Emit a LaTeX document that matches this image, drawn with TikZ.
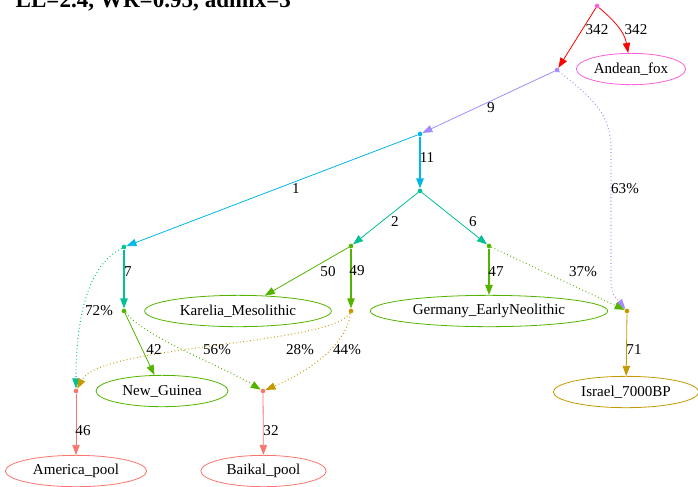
\documentclass[tikz,border=0pt]{standalone}
\usepackage{fontspec}
\setmainfont{Liberation Serif}
\usepackage{xcolor}
\usetikzlibrary{arrows.meta}
\usetikzlibrary{shapes.geometric}

\definecolor{cpink}{HTML}{FB61D7}
\definecolor{cpurple}{HTML}{A58AFF}
\definecolor{ccyan}{HTML}{00B6EB}
\definecolor{cteal}{HTML}{00C094}
\definecolor{cgreen}{HTML}{53B400}
\definecolor{cgold}{HTML}{C49A00}
\definecolor{csalmon}{HTML}{F8766D}

\tikzset{
  dot/.style={circle, fill=#1, inner sep=0pt, minimum size=3.5pt},
  pop/.style={ellipse, draw=#1, line width=0.6pt, inner sep=0pt, minimum height=23.5pt},
  lbl/.style={inner sep=0pt},
  link/.style={draw=#1, line width=0.6pt, -{Triangle[length=7.5pt,width=5.5pt]}},
  admix/.style={link=#1, dotted, line width=0.8pt}
}

\begin{document}
\begin{tikzpicture}[x=0.75pt, y=-0.75pt, every node/.style={font=\fontsize{11.3}{13}\selectfont}]
      \useasboundingbox (0,0) rectangle (698,486);
      \node[anchor=base west, font=\bfseries\fontsize{17.3}{20}\selectfont] (title) at (11,7) {LL=2.4, WR=0.95, admix=3};

      \node[dot=cpink] (root) at (597,6) {};
      \node[dot=cpurple] (A) at (557,70) {};
      \node[dot=ccyan] (B) at (420,134) {};
      \node[dot=cteal] (C) at (420,191) {};
      \node[dot=cteal] (D) at (124,247) {};
      \node[dot=cgreen] (E) at (351,246) {};
      \node[dot=cgreen] (F) at (489,246) {};
      \node[dot=cgreen] (G) at (124,311) {};
      \node[dot=cgold] (H) at (351,311) {};
      \node[dot=cgold] (I) at (627,311) {};
      \node[dot=csalmon] (J) at (76,391) {};
      \node[dot=csalmon] (K) at (263,391) {};

      \node[pop=cpink, minimum width=82pt] (andean) at (631,69) {Andean\_fox};
      \node[pop=cgreen, minimum width=140pt] (karelia) at (238,311) {Karelia\_Mesolithic};
      \node[pop=cgreen, minimum width=178pt] (germany) at (489,311) {Germany\_EarlyNeolithic};
      \node[pop=cgreen, minimum width=99pt] (guinea) at (162,391) {New\_Guinea};
      \node[pop=cgold, minimum width=109pt] (israel) at (626,392) {Israel\_7000BP};
      \node[pop=csalmon, minimum width=106pt] (america) at (76,471) {America\_pool};
      \node[pop=csalmon, minimum width=94pt] (baikal) at (263.5,471) {Baikal\_pool};

      \draw[link=red] (root) -- (A);
      \draw[link=red] (root) to[out=-40,in=100] (andean);
      \draw[link=cpurple] (A) -- (B);
      \draw[admix=cpurple] (A) .. controls (595,100) and (611,115) .. (611,150) -- (611,280) .. controls (611,296) and (618,300) .. (I);
      \draw[link=ccyan, line width=1.1pt] (B) -- (C);
      \draw[link=ccyan] (B) -- (D);
      \draw[link=cteal] (C) -- (E);
      \draw[link=cteal] (C) -- (F);
      \draw[link=cteal, line width=0.9pt] (D) -- (G);
      \draw[admix=cteal] (D) .. controls (95,262) and (76,300) .. (J);
      \draw[link=cgreen] (E) -- (karelia);
      \draw[link=cgreen, line width=0.9pt] (E) -- (H);
      \draw[link=cgreen, line width=1.1pt] (F) -- (germany);
      \draw[admix=cgreen] (F) -- (I);
      \draw[link=cgreen] (G) -- (guinea);
      \draw[admix=cgreen] (G) .. controls (150,340) and (220,365) .. (K);
      \draw[admix=cgold] (H) .. controls (330,345) and (100,345) .. (J);
      \draw[admix=cgold] (H) .. controls (345,350) and (300,375) .. (K);
      \draw[link=cgold] (I) -- (israel);
      \draw[link=csalmon] (J) -- (america);
      \draw[link=csalmon] (K) -- (baikal);

      \node[lbl] (w1) at (597,30) {342};
      \node[lbl] (w2) at (636,30) {342};
      \node[lbl] (w3) at (491,108) {9};
      \node[lbl] (w4) at (625,189) {63\%};
      \node[lbl] (w5) at (427,158) {11};
      \node[lbl] (w6) at (296,189) {1};
      \node[lbl] (w7) at (395,222) {2};
      \node[lbl] (w8) at (473,222) {6};
      \node[lbl] (w9) at (128,272) {7};
      \node[lbl] (w10) at (328,272) {50};
      \node[lbl] (w11) at (357,271) {49};
      \node[lbl] (w12) at (496,272) {47};
      \node[lbl] (w13) at (583,272) {37\%};
      \node[lbl] (w14) at (99,311) {72\%};
      \node[lbl] (w15) at (154,350) {42};
      \node[lbl] (w16) at (217,350) {56\%};
      \node[lbl] (w17) at (300,350) {28\%};
      \node[lbl] (w18) at (347,350) {44\%};
      \node[lbl] (w19) at (83,431) {46};
      \node[lbl] (w20) at (271,431) {32};
      \node[lbl] (w21) at (634,350) {71};
    \end{tikzpicture}
\end{document}
